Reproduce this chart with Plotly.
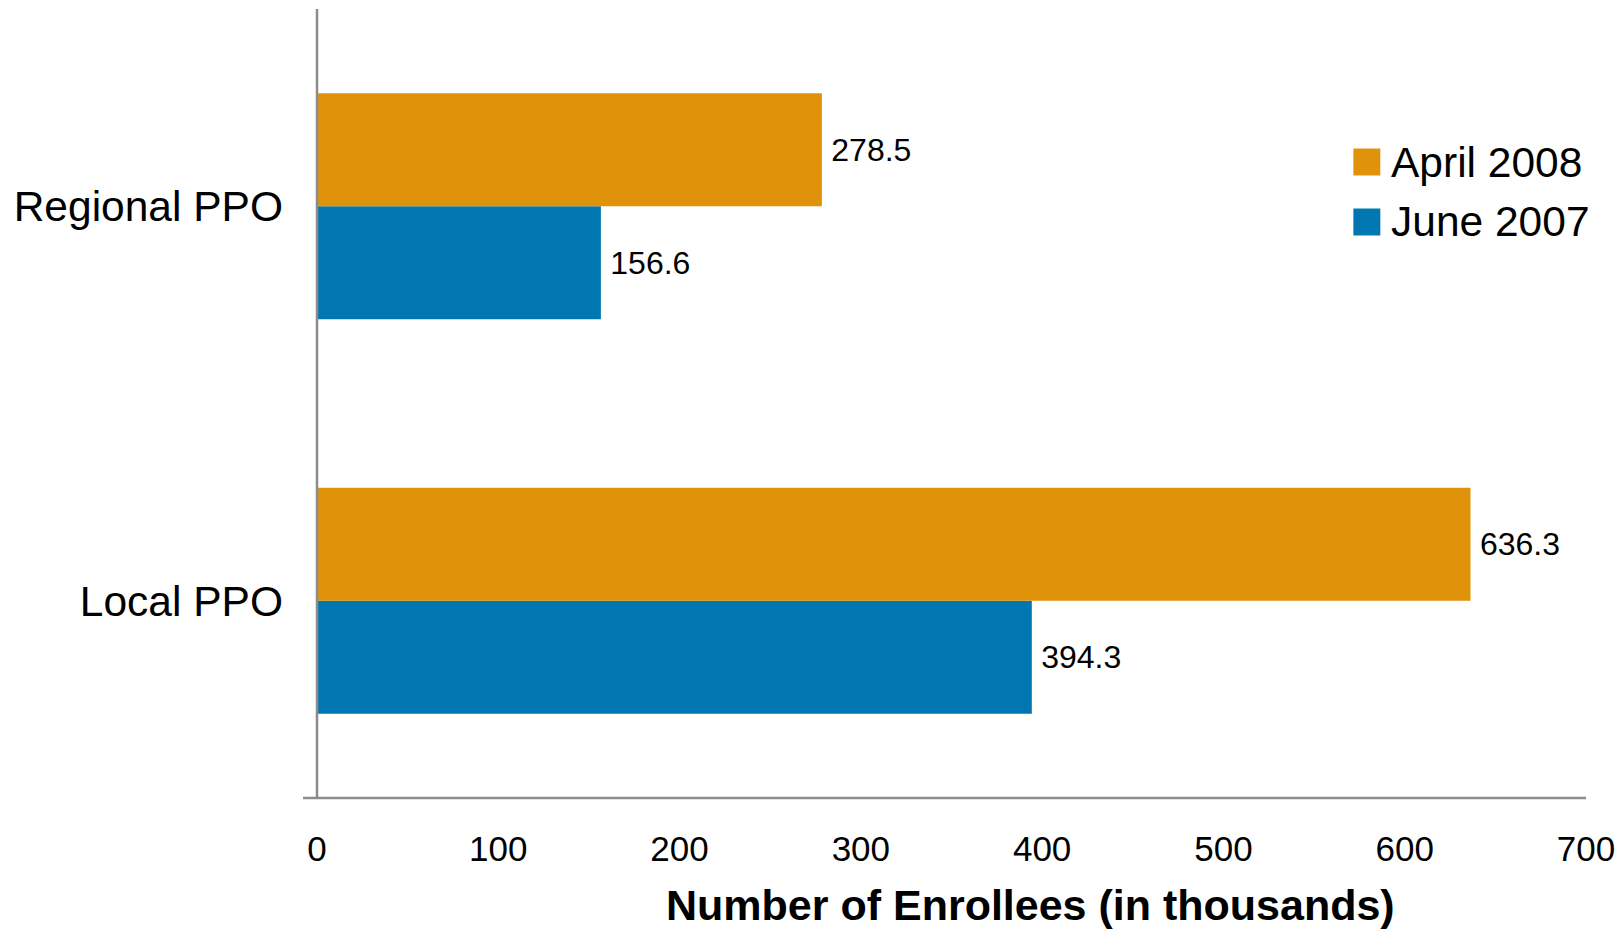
import plotly.graph_objects as go

categories = ["Local PPO", "Regional PPO"]
june_2007 = [394.3, 156.6]
april_2008 = [636.3, 278.5]
series_names = ["June 2007", "April 2008"]
x_ticks = [0, 100, 200, 300, 400, 500, 600, 700]

ORANGE = "#E0920B"
BLUE = "#0077B0"
FONT = "Liberation Sans, Arial, sans-serif"
PAD = "\u2009"

fig = go.Figure()
fig.add_trace(go.Bar(
    y=categories, x=june_2007, orientation="h", name=series_names[0],
    marker=dict(color=BLUE, line=dict(width=0)),
    text=[PAD + f"{v:.1f}" for v in june_2007], textposition="outside",
    textfont=dict(size=32, color="black", family=FONT), cliponaxis=False,
))
fig.add_trace(go.Bar(
    y=categories, x=april_2008, orientation="h", name=series_names[1],
    marker=dict(color=ORANGE, line=dict(width=0)),
    text=[PAD + f"{v:.1f}" for v in april_2008], textposition="outside",
    textfont=dict(size=32, color="black", family=FONT), cliponaxis=False,
))

L, R, T, B = 317, 36, 9, 132
W, H = 1624, 930
pw, ph = W - L - R, H - T - B

def px_x(px):
    return (px - L) / pw

def px_y(py):
    return (H - B - py) / ph

shapes = [
    dict(type="line", xref="paper", yref="paper", x0=0, x1=0, y0=0, y1=1,
         line=dict(color="#8C8C8C", width=2.5), layer="above"),
    dict(type="line", xref="paper", yref="paper", x0=px_x(303), x1=1, y0=0, y1=0,
         line=dict(color="#8C8C8C", width=2.5), layer="above"),
]
annotations = []
legend_items = [("April 2008", ORANGE, 162), ("June 2007", BLUE, 222)]
for name, col, cy in legend_items:
    shapes.append(dict(type="rect", xref="paper", yref="paper",
                       x0=px_x(1355), x1=px_x(1382), y0=px_y(cy - 13.5), y1=px_y(cy + 13.5),
                       fillcolor=col, line=dict(width=0)))
    annotations.append(dict(xref="paper", yref="paper", x=px_x(1391), y=px_y(cy),
                            xanchor="left", yanchor="middle", text=name, showarrow=False,
                            font=dict(size=42.5, color="black", family=FONT)))
annotations.append(dict(xref="paper", yref="paper", x=px_x(1032), y=px_y(905),
                        xanchor="center", yanchor="middle",
                        text="<b>Number of Enrollees (in thousands)</b>", showarrow=False,
                        font=dict(size=43, color="black", family=FONT)))

fig.update_layout(
    width=W, height=H,
    margin=dict(l=L, r=R, t=T, b=B, pad=0),
    paper_bgcolor="white", plot_bgcolor="white",
    barmode="group", bargap=0.427, bargroupgap=0,
    showlegend=False,
    font=dict(family=FONT, color="black"),
    shapes=shapes, annotations=annotations,
    xaxis=dict(range=[0, 700], tickvals=x_ticks, showgrid=False, zeroline=False,
               showline=False, ticks="", tickfont=dict(size=35, color="black", family=FONT),
               ticklabelstandoff=27, fixedrange=True),
    yaxis=dict(showgrid=False, zeroline=False, showline=False, ticks="",
               tickfont=dict(size=42.5, color="black", family=FONT),
               ticklabelstandoff=33, fixedrange=True),
)

fig.write_html("out.html", config={"displayModeBar": False})
